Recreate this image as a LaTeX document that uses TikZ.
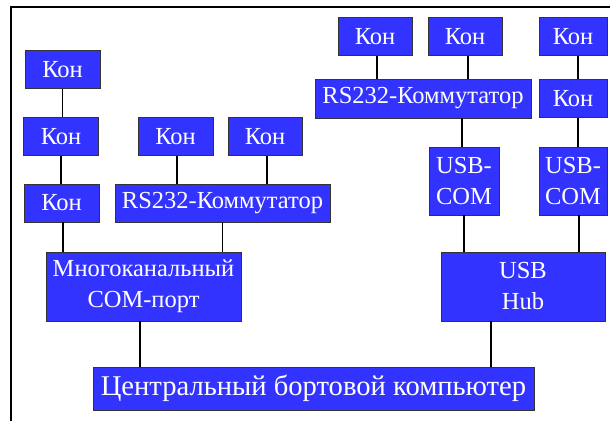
\documentclass[tikz,border=0pt]{standalone}
\usepackage{fontspec}
\setmainfont{Liberation Serif}
\usepackage{xcolor}
\usepackage{tikz}
\usetikzlibrary{calc,positioning}
\definecolor{busblue}{HTML}{3333FF}
\definecolor{edgegray}{HTML}{333333}
\tikzset{
  unit/.style={rectangle,draw=edgegray,line width=0.8pt,fill=busblue,text=white,
    inner sep=0pt,align=center,font=\fontsize{24.5}{31}\selectfont},
  kon/.style={unit,minimum width=75pt,minimum height=38pt},
  link/.style={draw=black,line width=1.3pt},
  frame/.style={draw=black,line width=2.4pt}
}
\begin{document}
\begin{tikzpicture}[x=1pt,y=-1pt]
\useasboundingbox (0,0) rectangle (610,421);
\draw[frame] (11,421) -- (11,7) -- (610,7);
% left branch
\node[kon] (k1) at (62.5,69.5) {Кон};
\node[kon] (k2) at (61,136.5) {Кон};
\node[kon] (k3) at (61.5,203) {Кон};
\node[kon] (k4) at (175.5,136.5) {Кон};
\node[kon,minimum width=74pt] (k5) at (265,136.5) {Кон};
\node[unit,minimum width=215pt,minimum height=38pt] (rsA) at (222.5,203) {RS232-Коммутатор};
\node[unit,minimum width=195pt,minimum height=69pt] (mcom) at (143.5,286.5) {Многоканальный\\COM-порт};
% right branch
\node[kon,minimum width=74pt] (k6) at (375,36.5) {Кон};
\node[kon,minimum width=74pt] (k7) at (465,36.5) {Кон};
\node[kon,minimum width=68pt] (k8) at (573,36.5) {Кон};
\node[unit,minimum width=216pt,minimum height=39pt] (rsB) at (423,98.5) {RS232-Коммутатор};
\node[kon,minimum width=68pt] (k9) at (573,98.5) {Кон};
\node[unit,minimum width=70pt,minimum height=68pt] (uc1) at (464,181) {USB-\\COM};
\node[unit,minimum width=68pt,minimum height=68pt] (uc2) at (573,181) {USB-\\COM};
\node[unit,minimum width=164pt,minimum height=69pt] (hub) at (523,286.5) {USB\\Hub};
% computer
\node[unit,minimum width=441pt,minimum height=43pt,font=\fontsize{28.6}{34}\selectfont] (cpu) at (313.5,388.5) {Центральный бортовой компьютер};
% links
\draw[link] (k1) -- (k1 |- k2.north);
\draw[link] (k2) -- (k2 |- k3.north);
\draw[link] ([xshift=1.5pt]k3.south) -- ([xshift=1.5pt]k3.south |- mcom.north);
\draw[link] ([xshift=1.5pt]k4.south) -- ([xshift=1.5pt]k4.south |- rsA.north);
\draw[link] ([xshift=2pt]k5.south) -- ([xshift=2pt]k5.south |- rsA.north);
\draw[link] (rsA.south) -- (rsA.south |- mcom.north);
\draw[link] ([xshift=-3.5pt]mcom.south) -- ([xshift=-3.5pt]mcom.south |- cpu.north);
\draw[link] ([xshift=2pt]k6.south) -- ([xshift=2pt]k6.south |- rsB.north);
\draw[link] ([xshift=3pt]k7.south) -- ([xshift=3pt]k7.south |- rsB.north);
\draw[link] ([xshift=-2pt]uc1.north) -- ([xshift=-2pt]uc1.north |- rsB.south);
\draw[link] ([xshift=5pt]k8.south) -- ([xshift=5pt]k8.south |- k9.north);
\draw[link] ([xshift=5pt]k9.south) -- ([xshift=5pt]k9.south |- uc2.north);
\draw[link] (uc1.south) -- (uc1.south |- hub.north);
\draw[link] ([xshift=6pt]uc2.south) -- ([xshift=6pt]uc2.south |- hub.north);
\draw[link] ([xshift=-32pt]hub.south) -- ([xshift=-32pt]hub.south |- cpu.north);
\end{tikzpicture}
\end{document}
